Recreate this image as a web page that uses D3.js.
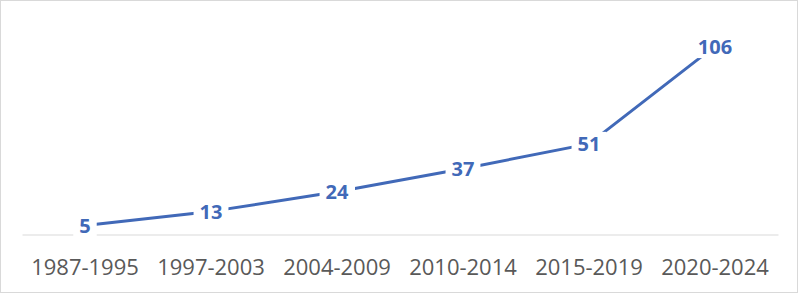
<!DOCTYPE html>
<html>
<head>
<meta charset="utf-8">
<script src="https://cdn.jsdelivr.net/npm/d3@7"></script>
<style>
  html, body { margin: 0; padding: 0; background: #fff; }
  svg { display: block; }
</style>
</head>
<body>
<svg id="chart" width="800" height="295"></svg>
<script>
const categories = ["1987-1995", "1997-2003", "2004-2009", "2010-2014", "2015-2019", "2020-2024"];
const values = [5, 13, 24, 37, 51, 106];
const yDomain = [0, 120];

const svg = d3.select("#chart");
const blue = "#4169B8";

svg.append("rect")
  .attr("x", 0.5).attr("y", 0.5)
  .attr("width", 797).attr("height", 292)
  .attr("fill", "#fff").attr("stroke", "#D9D9D9").attr("stroke-width", 1);

const x = d3.scaleBand().domain(categories).range([22, 778]).padding(0);
const y = d3.scaleLinear().domain(yDomain).range([234.5, 21.2]);
const cx = d => x(d) + x.bandwidth() / 2;

// axis
const xAxis = d3.axisBottom(x).tickSize(0).tickPadding(0);
const gx = svg.append("g").attr("transform", `translate(0,${y(0)})`).call(xAxis);
gx.select(".domain").attr("stroke", "#D9D9D9").attr("stroke-width", 1);
gx.selectAll(".tick text")
  .attr("y", 275 - y(0)).attr("dy", null)
  .attr("fill", "#595959")
  .style("font-family", "'Open Sans', sans-serif")
  .style("font-size", "22px");

// line
const data = categories.map((c, i) => ({ c, v: values[i] }));
const line = d3.line().x(d => cx(d.c)).y(d => y(d.v));
svg.append("path").datum(data)
  .attr("d", line)
  .attr("fill", "none")
  .attr("stroke", blue)
  .attr("stroke-width", 3)
  .attr("stroke-linejoin", "round");

// labels with white boxes
const lg = svg.append("g");
data.forEach(d => {
  const g = lg.append("g");
  const t = g.append("text")
    .attr("x", cx(d.c)).attr("y", y(d.v) + 7.5)
    .attr("text-anchor", "middle")
    .attr("fill", blue)
    .style("font-family", "'Open Sans', sans-serif")
    .style("font-weight", "bold")
    .style("font-size", "20px")
    .text(d.v);
  const bb = t.node().getBBox();
  g.insert("rect", "text")
    .attr("x", bb.x - 6).attr("y", y(d.v) - 12)
    .attr("width", bb.width + 12).attr("height", 24)
    .attr("fill", "#fff");
});
</script>
</body>
</html>
